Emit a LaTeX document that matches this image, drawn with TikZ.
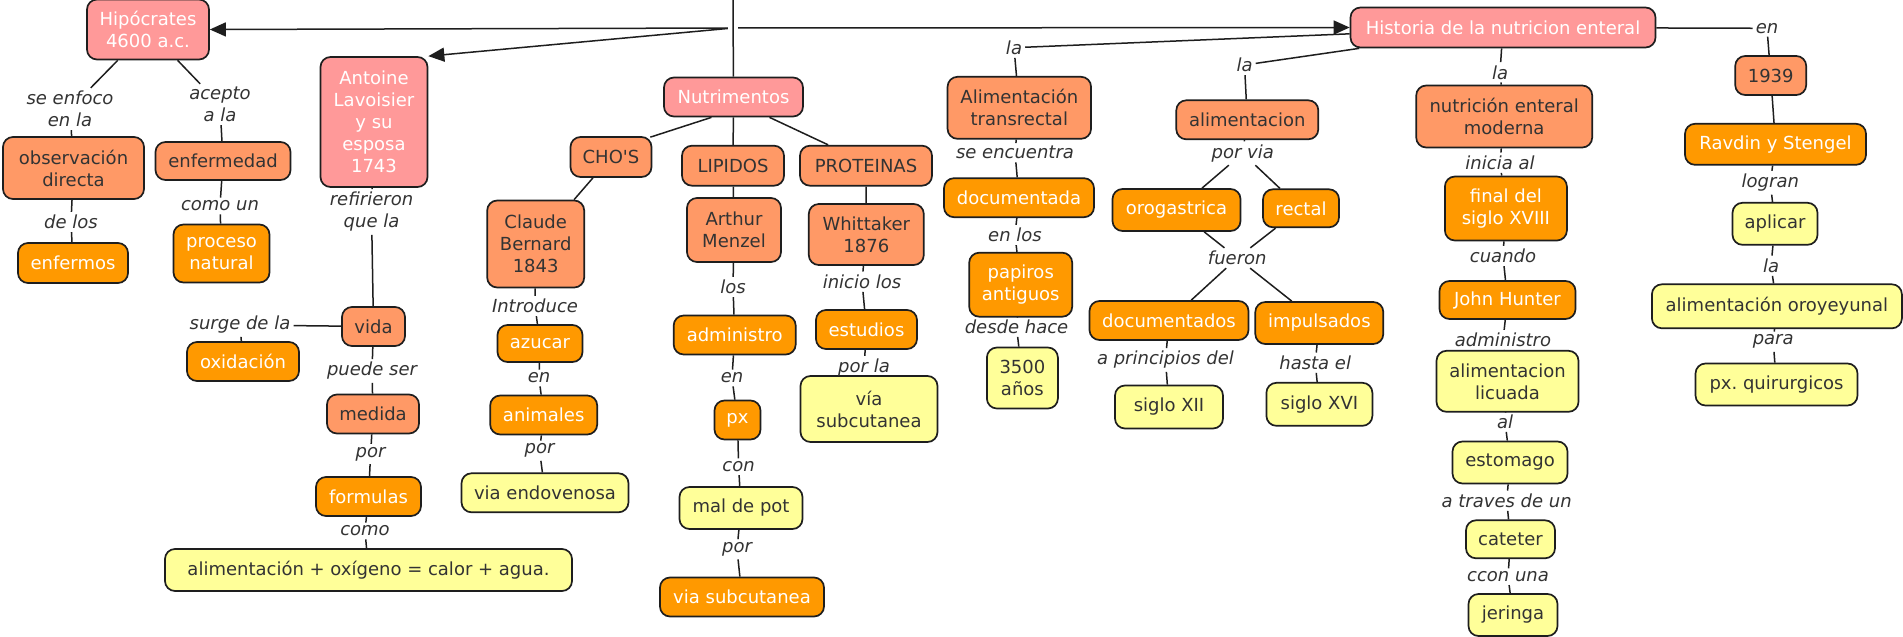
\documentclass[tikz,border=0pt]{standalone}
\usepackage{fontspec}
\setmainfont{DejaVu Sans}
\usetikzlibrary{arrows.meta,calc}
\definecolor{cpink}{RGB}{255,153,153}
\definecolor{csalmon}{RGB}{255,153,102}
\definecolor{corange}{RGB}{255,153,0}
\definecolor{cyellow}{RGB}{255,255,153}
\definecolor{txt}{RGB}{51,51,51}
\definecolor{lin}{RGB}{30,30,30}
\frenchspacing
\newcommand\nfont{\fontsize{18}{22}\selectfont}
\newcommand\lfont{\fontsize{18}{22}\selectfont\itshape}
\tikzset{
  box/.style={draw=lin, line width=1.7pt, rounded corners=10pt, font=\nfont, align=center, inner sep=0pt},
  pinkbox/.style={box, fill=cpink, text=white},
  salbox/.style={box, fill=csalmon, text=txt},
  orbox/.style={box, fill=corange, text=white},
  yelbox/.style={box, fill=cyellow, text=txt},
  lp/.style={font=\lfont, text=txt, inner sep=3pt, align=center},
  conn/.style={draw=lin, line width=1.5pt},
  arr/.style={conn, -{Triangle[length=16pt,width=14pt]}},
  hubst/.style={inner sep=0pt, minimum width=10pt, minimum height=2pt},
  sz/.style 2 args={minimum width=#1pt, minimum height=#2pt}
}
\begin{document}
\frenchspacing
\begin{tikzpicture}[x=1pt,y=-1pt]
\fill[white] (0,0) rectangle (1903,637);
\useasboundingbox (0,0) rectangle (1903,637);
% concepts
\node[pinkbox, sz={122}{60}] (hipo) at (148,29.5) {Hipócrates\\4600 a.c.};
\node[pinkbox, sz={107}{130}] (lavo) at (374,122) {Antoine\\Lavoisier\\y su\\esposa\\1743};
\node[pinkbox, sz={139}{39}] (nutri) at (733.5,97) {Nutrimentos};
\node[pinkbox, sz={305}{40}] (hist) at (1503,27.5) {Historia de la nutricion enteral};
\node[salbox, sz={141}{62}] (obs) at (73.5,168) {observación\\directa};
\node[salbox, sz={135}{38}] (enf) at (223,161) {enfermedad};
\node[orbox, sz={110}{40}] (enfermos) at (73,263) {enfermos};
\node[orbox, sz={96}{58}] (proc) at (221.5,253.5) {proceso\\natural};
\node[salbox, sz={63}{39}] (vida) at (373.5,326.5) {vida};
\node[orbox, sz={112}{39}] (oxi) at (243,361.5) {oxidación};
\node[salbox, sz={92}{39}] (medida) at (373,414) {medida};
\node[orbox, sz={105}{39}] (form) at (368.5,496.5) {formulas};
\node[yelbox, sz={407}{42}] (ecua) at (368.5,570) {alimentación + oxígeno = calor + agua.};
\node[salbox, sz={81}{40}] (chos) at (611,157) {CHO\textquotesingle S};
\node[salbox, sz={97}{87}] (claude) at (535.7,244) {Claude\\Bernard\\1843};
\node[orbox, sz={85}{37}] (azucar) at (540,343.5) {azucar};
\node[orbox, sz={107}{39}] (animales) at (543.7,415) {animales};
\node[yelbox, sz={167}{39}] (endov) at (545,492.8) {via endovenosa};
\node[salbox, sz={102}{40}] (lip) at (733,165.7) {LIPIDOS};
\node[salbox, sz={94}{64}] (arthur) at (734,230) {Arthur\\Menzel};
\node[orbox, sz={122}{39}] (admin) at (734.7,335) {administro};
\node[orbox, sz={46}{39}] (px) at (737.5,420) {px};
\node[yelbox, sz={123}{42}] (maldepot) at (741,508) {mal de pot};
\node[orbox, sz={164}{39}] (subc) at (742,597) {via subcutanea};
\node[salbox, sz={132}{40}] (prot) at (866,165.7) {PROTEINAS};
\node[salbox, sz={115}{61}] (whit) at (866.3,234.5) {Whittaker\\1876};
\node[orbox, sz={101}{39}] (estud) at (866.5,329.5) {estudios};
\node[yelbox, sz={137}{66}] (viasub) at (869,409) {vía\\subcutanea};
\node[salbox, sz={143.5}{62}] (trans) at (1019.3,107.8) {Alimentación\\transrectal};
\node[orbox, sz={150}{39}] (docu) at (1019,197.7) {documentada};
\node[orbox, sz={103}{64}] (papiros) at (1020.7,284.7) {papiros\\antiguos};
\node[yelbox, sz={71}{61}] (anos) at (1022.4,378) {3500\\años};
\node[salbox, sz={142}{39}] (alim) at (1247.3,119.8) {alimentacion};
\node[orbox, sz={128}{42}] (orog) at (1176.5,210) {orogastrica};
\node[orbox, sz={76}{38}] (rectal) at (1301,208.3) {rectal};
\node[orbox, sz={159}{39}] (docs) at (1169,320.5) {documentados};
\node[orbox, sz={128}{42}] (impul) at (1319.3,323) {impulsados};
\node[yelbox, sz={108}{43}] (sxii) at (1169,407) {siglo XII};
\node[yelbox, sz={106}{43}] (sxvi) at (1319.4,404.3) {siglo XVI};
\node[salbox, sz={176}{62}] (moder) at (1504.2,116.5) {nutrición enteral\\moderna};
\node[orbox, sz={122}{64}] (final) at (1505.9,208.5) {final del\\siglo XVIII};
\node[orbox, sz={136}{38}] (hunter) at (1507.5,300) {John Hunter};
\node[yelbox, sz={142}{61}] (licuada) at (1507.5,381.3) {alimentacion\\licuada};
\node[yelbox, sz={115}{42}] (estom) at (1510,462.5) {estomago};
\node[yelbox, sz={89}{38}] (cat) at (1510.5,539.3) {cateter};
\node[yelbox, sz={89}{42}] (jer) at (1513,615) {jeringa};
\node[salbox, sz={71}{39}] (y1939) at (1770.7,75.5) {1939};
\node[orbox, sz={181}{41}] (ravdin) at (1775.5,144.3) {Ravdin y Stengel};
\node[yelbox, sz={85}{42}] (aplicar) at (1775,223.8) {aplicar};
\node[yelbox, sz={250}{44}] (oroy) at (1776.9,306.3) {alimentación oroyeyunal};
\node[yelbox, sz={162}{42}] (quir) at (1776.5,384.5) {px. quirurgicos};
% linking phrases
\node[lp] (l1) at (70,109) {se enfoco\\en la};
\node[lp] (l2) at (220,104.5) {acepto\\a la};
\node[lp] (l3) at (71,222) {de los};
\node[lp] (l4) at (220,206) {como un};
\node[lp] (l5) at (371.5,212) {refirieron\\que la};
\node[lp] (l6) at (240,325) {surge de la};
\node[lp] (l7) at (372,371) {puede ser};
\node[lp] (l8) at (370.6,454) {por};
\node[lp] (l9) at (365,531) {como};
\node[lp] (l10) at (535,306) {Introduce};
\node[lp] (l11) at (539,378) {en};
\node[lp] (l12) at (539.6,450.7) {por};
\node[lp] (l13) at (733,287) {los};
\node[lp] (l14) at (732,378) {en};
\node[lp] (l15) at (738.6,466.7) {con};
\node[lp] (l16) at (737,549.3) {por};
\node[lp] (l17) at (862,281.7) {inicio los};
\node[lp] (l18) at (864,367.7) {por la};
\node[lp] (l19) at (1014,47.7) {la};
\node[lp] (l20) at (1015,152.7) {se encuentra};
\node[lp] (l21) at (1015,235) {en los};
\node[lp] (l22) at (1016.5,326.7) {desde hace};
\node[lp] (l23) at (1244.5,65) {la};
\node[lp] (l24) at (1242.7,153.3) {por via};
\node[lp] (l25) at (1237.3,258) {fueron};
\node[lp] (l26) at (1165.5,360) {a principios del};
\node[lp] (l27) at (1315.2,362.7) {hasta el};
\node[lp] (l28) at (1500,72.3) {la};
\node[lp] (l29) at (1500,162.7) {inicia al};
\node[lp] (l30) at (1503,256) {cuando};
\node[lp] (l31) at (1503,340) {administro};
\node[lp] (l32) at (1505,421.7) {al};
\node[lp] (l33) at (1506.7,500.7) {a traves de un};
\node[lp] (l34) at (1508,576.7) {ccon una};
\node[lp] (l35) at (1767,28.3) {en};
\node[lp] (l36) at (1770.3,182.7) {logran};
\node[lp] (l37) at (1771,265.7) {la};
\node[lp] (l38) at (1773.2,341.7) {para};
% hub
\node[hubst] (hub) at (733,28) {};
\coordinate (hubtop) at (733,0);
% connectors
\draw[conn] (hubtop) -- (nutri);
\draw[arr] (hub) -- (hipo.east);
\draw[arr] (hub) -- (lavo.north east);
\draw[arr] (hub) -- (hist.west);
\draw[conn] (hipo) -- (l1);
\draw[conn] (l1) -- (obs);
\draw[conn] (hipo) -- (l2);
\draw[conn] (l2) -- (enf);
\draw[conn] (obs) -- (l3);
\draw[conn] (l3) -- (enfermos);
\draw[conn] (enf) -- (l4);
\draw[conn] (l4) -- (proc);
\draw[conn] (lavo) -- (l5);
\draw[conn] (l5) -- (vida);
\draw[conn] (vida) -- (l6);
\draw[conn] (l6) -- (oxi);
\draw[conn] (vida) -- (l7);
\draw[conn] (l7) -- (medida);
\draw[conn] (medida) -- (l8);
\draw[conn] (l8) -- (form);
\draw[conn] (form) -- (l9);
\draw[conn] (l9) -- (ecua);
\draw[conn] ($(nutri.south)+(-22,0)$) -- ($(chos.north east)+(-2,1)$);
\draw[conn] (nutri) -- (lip);
\draw[conn] ($(nutri.south)+(36,0)$) -- ($(prot.north west)+(29,0)$);
\draw[conn] (chos) -- (claude);
\draw[conn] (claude) -- (l10);
\draw[conn] (l10) -- (azucar);
\draw[conn] (azucar) -- (l11);
\draw[conn] (l11) -- (animales);
\draw[conn] (animales) -- (l12);
\draw[conn] (l12) -- (endov);
\draw[conn] (lip) -- (arthur);
\draw[conn] (arthur) -- (l13);
\draw[conn] (l13) -- (admin);
\draw[conn] (admin) -- (l14);
\draw[conn] (l14) -- (px);
\draw[conn] (px) -- (l15);
\draw[conn] (l15) -- (maldepot);
\draw[conn] (maldepot) -- (l16);
\draw[conn] (l16) -- (subc);
\draw[conn] (prot) -- (whit);
\draw[conn] (whit) -- (l17);
\draw[conn] (l17) -- (estud);
\draw[conn] (estud) -- (l18);
\draw[conn] (hist) -- (l19);
\draw[conn] (l19) -- (trans);
\draw[conn] (trans) -- (l20);
\draw[conn] (l20) -- (docu);
\draw[conn] (docu) -- (l21);
\draw[conn] (l21) -- (papiros);
\draw[conn] (papiros) -- (l22);
\draw[conn] (l22) -- (anos);
\draw[conn] (hist) -- (l23);
\draw[conn] (l23) -- (alim);
\draw[conn] (alim) -- (l24);
\draw[conn] (l24) -- (orog);
\draw[conn] (l24) -- (rectal);
\draw[conn] (orog) -- (l25);
\draw[conn] (rectal) -- (l25);
\draw[conn] (l25) -- (docs);
\draw[conn] (l25) -- (impul);
\draw[conn] (docs) -- (l26);
\draw[conn] (l26) -- (sxii);
\draw[conn] (impul) -- (l27);
\draw[conn] (l27) -- (sxvi);
\draw[conn] (hist) -- (l28);
\draw[conn] (l28) -- (moder);
\draw[conn] (moder) -- (l29);
\draw[conn] (l29) -- (final);
\draw[conn] (final) -- (l30);
\draw[conn] (l30) -- (hunter);
\draw[conn] (hunter) -- (l31);
\draw[conn] (l31) -- (licuada);
\draw[conn] (licuada) -- (l32);
\draw[conn] (l32) -- (estom);
\draw[conn] (estom) -- (l33);
\draw[conn] (l33) -- (cat);
\draw[conn] (cat) -- (l34);
\draw[conn] (l34) -- (jer);
\draw[conn] (hist) -- (l35);
\draw[conn] (l35) -- (y1939);
\draw[conn] (y1939) -- (ravdin);
\draw[conn] (ravdin) -- (l36);
\draw[conn] (l36) -- (aplicar);
\draw[conn] (aplicar) -- (l37);
\draw[conn] (l37) -- (oroy);
\draw[conn] (oroy) -- (l38);
\draw[conn] (l38) -- (quir);
\end{tikzpicture}
\end{document}
